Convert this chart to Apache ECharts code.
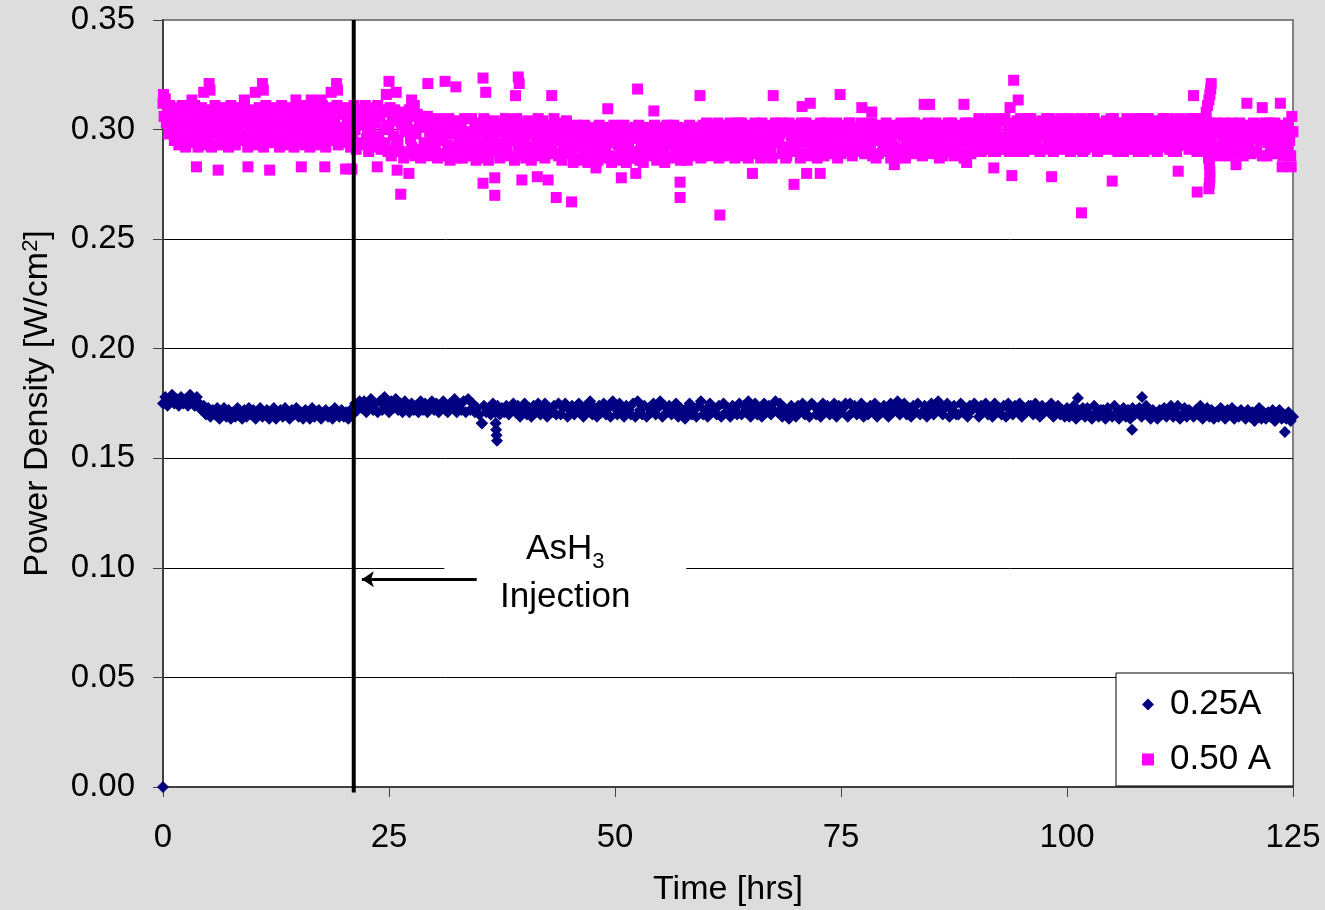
<!DOCTYPE html>
<html>
<head>
<meta charset="utf-8">
<title>Power Density vs Time</title>
<script src="https://cdn.jsdelivr.net/npm/echarts@6/dist/echarts.min.js"></script>
<style>
  html, body { margin: 0; padding: 0; background: #dddddd; }
  #chart { width: 1325px; height: 910px; }
</style>
</head>
<body>
<div id="chart"></div>
<script>
// ---------------------------------------------------------------
// Logged cell power density, in mW/cm2 (converted to W/cm2 below)
// ---------------------------------------------------------------

// 0.25 A run: one reading every 0.25 h (8 readings per row = 2 h)
const step025 = 0.25;
const pd025 = [
  175, 178, 174, 177, 179, 175, 177, 174,
  178, 175, 177, 174, 179, 176, 174, 178,
  175, 172, 174, 170, 173, 169, 172, 170,
  173, 168, 171, 173, 169, 172, 168, 171,
  169, 173, 170, 168, 172, 169, 173, 170,
  172, 168, 171, 173, 169, 170, 172, 168,
  171, 173, 168, 170, 172, 169, 173, 170,
  168, 172, 170, 173, 169, 171, 168, 172,
  170, 168, 173, 169, 171, 172, 168, 170,
  172, 169, 171, 168, 173, 170, 169, 172,
  169, 171, 168, 172, 170, 175, 172, 176,
  173, 176, 171, 174, 177, 172, 175, 171,
  176, 172, 178, 174, 171, 176, 173, 177,
  172, 175, 171, 176, 173, 171, 175, 172,
  174, 171, 176, 172, 175, 171, 173, 176,
  172, 175, 171, 174, 176, 172, 171, 175,
  173, 177, 171, 174, 172, 176, 171, 177,
  172, 175, 171, 173, 170, 166, 174, 171,
  173, 170, 175, 171, 174, 170, 173, 171,
  174, 170, 173, 175, 171, 174, 169, 172,
  175, 170, 173, 169, 174, 171, 175, 170,
  172, 175, 169, 173, 171, 174, 170, 175,
  170, 173, 175, 169, 172, 174, 170, 173,
  175, 171, 169, 174, 172, 176, 170, 173,
  169, 174, 171, 175, 170, 173, 169, 176,
  173, 170, 175, 171, 169, 174, 172, 170,
  175, 169, 176, 172, 170, 174, 169, 173,
  171, 175, 170, 173, 176, 169, 174, 171,
  174, 170, 172, 175, 169, 173, 171, 168,
  173, 175, 170, 172, 169, 174, 176, 170,
  172, 169, 175, 171, 173, 170, 174, 169,
  175, 171, 173, 169, 174, 172, 170, 175,
  170, 174, 171, 176, 169, 173, 175, 170,
  173, 169, 175, 171, 174, 170, 172, 176,
  171, 175, 169, 173, 170, 168, 174, 172,
  169, 174, 172, 175, 170, 173, 169, 175,
  174, 170, 173, 169, 175, 171, 174, 170,
  172, 175, 169, 174, 171, 173, 175, 169,
  175, 171, 174, 170, 172, 175, 169, 173,
  170, 174, 172, 175, 169, 173, 171, 174,
  173, 169, 175, 171, 174, 176, 170, 172,
  175, 170, 173, 169, 174, 171, 175, 170,
  171, 174, 169, 173, 175, 170, 172, 176,
  174, 170, 173, 175, 169, 172, 174, 170,
  170, 175, 171, 173, 169, 174, 172, 175,
  173, 169, 174, 171, 175, 170, 173, 169,
  175, 171, 173, 170, 174, 169, 175, 172,
  170, 174, 172, 175, 169, 173, 171, 174,
  174, 170, 175, 172, 169, 174, 171, 173,
  171, 175, 169, 173, 174, 170, 172, 169,
  173, 169, 171, 174, 168, 172, 170, 173,
  169, 173, 170, 168, 174, 171, 169, 172,
  172, 168, 173, 170, 169, 174, 171, 168,
  170, 173, 169, 172, 168, 173, 170, 172,
  173, 169, 171, 174, 170, 168, 172, 170,
  168, 172, 170, 173, 169, 171, 174, 169,
  171, 174, 168, 170, 173, 169, 172, 171,
  169, 172, 170, 174, 168, 171, 173, 169,
  172, 168, 171, 169, 173, 170, 168, 172,
  170, 173, 168, 171, 169, 172, 170, 168,
  172, 169, 171, 167, 170, 173, 168, 171,
  168, 171, 169, 172, 167, 170, 172, 168,
  170, 168, 171, 167, 169
];
// 0.25 A readings off the regular log: [time h, mW/cm2]
const extra025 = [
  [0, 0], [35.3, 166],
  [36.8, 166], [36.85, 163], [36.9, 160.5], [36.95, 158],
  [101.2, 177.5], [107.2, 163], [108.3, 178], [124.1, 162]
];

// 0.50 A run: one reading every 0.125 h (8 per hour, one row per hour)
const step050 = 0.125;
const pd050 = [
  312, 306, 314, 303, 309, 298, 311, 304,
  301, 308, 295, 310, 299, 304, 293, 307,
  300, 311, 296, 303, 292, 308, 302, 297,
  309, 294, 305, 299, 311, 296, 303, 292,
  306, 300, 310, 293, 302, 308, 297, 304,
  295, 309, 301, 292, 307, 303, 311, 298,
  304, 293, 308, 300, 296, 310, 294, 305,
  299, 307, 292, 303, 311, 297, 302, 309,
  293, 305, 300, 310, 295, 304, 298, 307,
  311, 296, 303, 292, 308, 301, 294, 306,
  302, 309, 297, 305, 293, 310, 300, 296,
  307, 292, 304, 311, 298, 303, 295, 309,
  300, 306, 294, 302, 310, 297, 305, 292,
  303, 311, 298, 293, 307, 301, 309, 295,
  296, 304, 310, 300, 292, 306, 299, 308,
  309, 294, 301, 305, 297, 311, 293, 303,
  298, 307, 292, 310, 302, 296, 308, 300,
  305, 293, 309, 297, 303, 311, 294, 301,
  292, 308, 300, 306, 295, 302, 310, 298,
  304, 297, 311, 293, 309, 300, 296, 307,
  301, 310, 294, 303, 298, 308, 292, 305,
  297, 311, 300, 291, 306, 302, 309, 294,
  308, 293, 304, 311, 296, 301, 290, 307,
  299, 310, 292, 305, 303, 297, 311, 295,
  306, 291, 309, 300, 294, 308, 302, 290,
  301, 310, 288, 304, 297, 309, 292, 306,
  295, 308, 290, 302, 307, 287, 299, 305,
  303, 289, 309, 296, 292, 306, 300, 288,
  298, 307, 291, 304, 287, 301, 306, 294,
  290, 302, 306, 288, 299, 305, 293, 297,
  304, 291, 298, 287, 302, 295, 305, 289,
  296, 303, 288, 300, 293, 305, 286, 299,
  290, 298, 304, 292, 287, 301, 295, 303,
  302, 287, 296, 305, 290, 299, 293, 288,
  294, 305, 289, 297, 303, 286, 300, 292,
  299, 288, 302, 294, 305, 291, 287, 297,
  286, 301, 295, 290, 298, 304, 293, 300,
  303, 292, 287, 299, 294, 302, 289, 305,
  291, 297, 304, 288, 301, 295, 303, 286,
  300, 305, 293, 297, 289, 303, 290, 298,
  295, 287, 301, 304, 292, 298, 286, 302,
  289, 303, 296, 291, 305, 293, 299, 288,
  304, 294, 287, 300, 297, 290, 302, 296,
  292, 299, 305, 289, 295, 303, 288, 301,
  298, 286, 293, 302, 290, 304, 297, 291,
  301, 289, 296, 285, 299, 292, 302, 287,
  294, 300, 286, 297, 291, 302, 288, 295,
  285, 298, 293, 301, 287, 296, 300, 290,
  299, 286, 302, 291, 295, 288, 297, 293,
  290, 301, 287, 296, 300, 285, 294, 302,
  296, 288, 299, 293, 286, 301, 290, 297,
  302, 291, 285, 298, 294, 289, 300, 287,
  287, 297, 301, 290, 296, 302, 286, 293,
  295, 285, 292, 300, 288, 297, 301, 291,
  300, 294, 289, 302, 297, 286, 293, 298,
  288, 301, 296, 291, 285, 299, 302, 294,
  293, 287, 300, 297, 302, 290, 288, 296,
  301, 295, 286, 292, 299, 294, 300, 289,
  286, 298, 302, 288, 293, 301, 291, 297,
  299, 292, 295, 301, 287, 296, 302, 290,
  294, 303, 289, 297, 300, 288, 302, 292,
  301, 290, 296, 303, 287, 299, 293, 298,
  288, 300, 302, 291, 297, 294, 303, 289,
  297, 292, 287, 301, 295, 303, 290, 299,
  303, 296, 300, 288, 293, 298, 287, 302,
  290, 301, 294, 299, 303, 289, 297, 292,
  299, 287, 303, 295, 290, 301, 296, 288,
  293, 302, 291, 287, 300, 295, 303, 297,
  301, 294, 298, 303, 289, 292, 300, 287,
  288, 299, 303, 292, 297, 301, 290, 295,
  302, 291, 295, 300, 287, 303, 294, 298,
  295, 303, 289, 297, 301, 288, 299, 292,
  290, 296, 302, 287, 294, 300, 303, 291,
  300, 288, 297, 303, 292, 295, 289, 301,
  297, 302, 291, 294, 303, 287, 298, 293,
  289, 295, 300, 298, 290, 302, 293, 303,
  303, 292, 288, 301, 296, 291, 300, 294,
  294, 300, 303, 290, 298, 289, 295, 302,
  291, 297, 294, 303, 288, 301, 299, 287,
  298, 289, 301, 295, 302, 293, 290, 300,
  303, 294, 290, 299, 287, 296, 302, 292,
  292, 301, 298, 288, 300, 303, 291, 297,
  300, 287, 295, 302, 293, 298, 303, 289,
  296, 303, 291, 297, 301, 290, 294, 302,
  288, 299, 302, 293, 296, 303, 289, 298,
  301, 292, 297, 290, 303, 294, 300, 287,
  295, 300, 288, 302, 291, 299, 296, 303,
  290, 297, 303, 295, 288, 301, 292, 299,
  302, 289, 296, 300, 294, 287, 303, 297,
  297, 303, 292, 289, 300, 296, 291, 301,
  293, 301, 305, 297, 290, 303, 299, 295,
  304, 296, 291, 300, 305, 294, 298, 290,
  299, 290, 302, 305, 293, 297, 304, 291,
  291, 305, 297, 293, 301, 290, 303, 298,
  302, 294, 300, 290, 304, 299, 292, 305,
  296, 303, 290, 301, 297, 305, 294, 300,
  305, 291, 298, 294, 303, 292, 301, 297,
  290, 300, 304, 297, 291, 302, 305, 293,
  298, 305, 293, 302, 290, 296, 299, 304,
  303, 292, 297, 305, 299, 291, 294, 301,
  294, 301, 305, 290, 296, 304, 300, 292,
  300, 297, 291, 303, 305, 293, 290, 298,
  291, 304, 299, 296, 292, 301, 305, 294,
  305, 293, 302, 290, 298, 303, 296, 300,
  297, 300, 294, 304, 291, 295, 302, 305,
  292, 305, 298, 293, 303, 290, 299, 296,
  303, 295, 290, 301, 297, 305, 292, 299,
  299, 291, 304, 296, 300, 294, 305, 290,
  294, 302, 297, 305, 290, 300, 293, 303,
  305, 296, 292, 299, 304, 291, 301, 297,
  290, 303, 300, 294, 298, 305, 295, 292,
  301, 297, 305, 291, 293, 302, 290, 304,
  296, 290, 299, 303, 305, 295, 298, 293,
  304, 299, 293, 297, 291, 300, 305, 296,
  292, 305, 301, 290, 302, 297, 294, 299,
  300, 294, 296, 304, 299, 291, 303, 297,
  295, 302, 289, 298, 303, 292, 300, 288,
  301, 290, 296, 303, 294, 299, 291, 297,
  288, 298, 303, 293, 300, 289, 302, 295,
  297, 303, 291, 299, 288, 301, 294, 300,
  302, 294, 300, 289, 296, 303, 290, 298,
  290, 299, 302, 295, 301, 288, 297, 303,
  299, 288, 294, 303, 291, 300, 296, 292,
  303, 296, 289, 301, 298, 293, 302, 288,
  294, 301, 297, 290, 303, 295, 288, 306,
  299
];
// 0.50 A scattered readings off the regular log: [time h, mW/cm2]
const extra050 = [
  [0.05, 316], [3.2, 313.5], [4.5, 317], [5.1, 321], [5.2, 318], [9.0, 313.5],
  [10.2, 317], [11.0, 321], [11.1, 318], [14.7, 313.5], [16.4, 313.5],
  [17.5, 313.5], [18.6, 317], [19.2, 321], [19.3, 318],
  [3.7, 283], [6.1, 281.5], [9.4, 283], [11.8, 281.5], [15.3, 283],
  [17.9, 283], [20.2, 282], [20.9, 282],
  [24.7, 316], [25.0, 322], [25.8, 317], [27.5, 313.5], [27.8, 311],
  [29.3, 321], [31.2, 322], [32.4, 319.5], [35.4, 323.5], [35.7, 317],
  [39.0, 315.5], [39.3, 324], [39.4, 321], [43.0, 315.5],
  [23.7, 283], [25.9, 281.5], [26.3, 270.5], [27.2, 280], [35.4, 275.5],
  [36.7, 278], [36.7, 270], [39.7, 277], [41.4, 278.5], [42.6, 277],
  [43.5, 269], [45.2, 267], [47.9, 282.5],
  [49.2, 309.5], [52.5, 318.5], [54.3, 308.5], [59.4, 315.5], [67.5, 315.5],
  [70.7, 310.5], [71.6, 312], [74.9, 316], [77.3, 310], [78.4, 308],
  [84.2, 311.5], [84.8, 311.5], [88.6, 311.5], [93.7, 310], [94.1, 322.5],
  [94.6, 313.5], [114.0, 315.5], [119.9, 312], [121.6, 310], [123.6, 312],
  [50.7, 278], [52.3, 280], [57.2, 276], [57.2, 269], [61.6, 261],
  [65.2, 280], [69.8, 275], [71.2, 280], [72.7, 280], [80.9, 284],
  [88.9, 285], [91.9, 282.5], [93.9, 279], [98.3, 278.5], [101.6, 262],
  [105.0, 276.5], [112.3, 281], [114.4, 271.5], [118.7, 284],
  [123.8, 283], [124.8, 283]
];
// 0.50 A excursion near 116 h
const excursion050 = [
  [115.95, 321], [115.9, 318.5], [115.8, 316], [115.7, 313.5], [115.55, 311],
  [115.4, 308], [115.3, 305], [115.3, 302], [115.3, 299], [115.35, 296],
  [115.45, 293], [115.55, 290], [115.65, 287], [115.75, 284], [115.8, 281],
  [115.8, 278], [115.75, 275.5], [115.7, 273]
];

// AsH3 injection time (h)
const injectionTime = 21.1;

// axis ticks
const xTicks = { min: 0, max: 125, interval: 25 };
const yTicks = { min: 0, max: 0.35, interval: 0.05 };

// ---------------------------------------------------------------
const FONT = '"Liberation Sans", Arial, sans-serif';
const toW = v => v / 1000;
const logged = (vals, step) => vals.map((v, i) => [i * step, toW(v)]);
const pairs = list => list.map(p => [p[0], toW(p[1])]);

const data025 = logged(pd025, step025).concat(pairs(extra025));
const data050 = logged(pd050, step050).concat(pairs(extra050), pairs(excursion050));

const chart = echarts.init(document.getElementById('chart'), null, { renderer: 'canvas' });

chart.setOption({
  backgroundColor: '#dddddd',
  animation: false,
  textStyle: { fontFamily: FONT, color: '#000' },
  grid: {
    left: 163, right: 32, top: 20, bottom: 123,
    outerBoundsMode: 'none',
    containLabel: false,
    show: true, backgroundColor: '#ffffff',
    borderColor: '#808080', borderWidth: 2
  },
  legend: {
    data: ['0.25A', '0.50 A'],
    orient: 'vertical',
    left: 1116, top: 673,
    itemWidth: 12, itemHeight: 12, itemGap: 20,
    padding: [14, 22, 9, 26],
    backgroundColor: '#ffffff',
    borderColor: '#000000', borderWidth: 1,
    selectedMode: false,
    itemStyle: { opacity: 1 },
    textStyle: { fontSize: 35, color: '#000', fontFamily: FONT, padding: [0, 0, 0, 11] }
  },
  xAxis: {
    type: 'value',
    min: xTicks.min, max: xTicks.max, interval: xTicks.interval,
    name: 'Time [hrs]',
    nameLocation: 'middle', nameGap: 86,
    nameTextStyle: { fontSize: 34, color: '#000', fontFamily: FONT },
    axisLine: { show: true, onZero: false, lineStyle: { color: '#404040', width: 2 } },
    axisTick: { show: true, length: 10, lineStyle: { color: '#404040', width: 1 } },
    axisLabel: { fontSize: 33, color: '#000', margin: 34, fontFamily: FONT },
    splitLine: { show: false }
  },
  yAxis: {
    type: 'value',
    min: yTicks.min, max: yTicks.max, interval: yTicks.interval,
    name: '{t|Power Density [W/cm}{sup|2}{t|]}',
    nameLocation: 'middle', nameGap: 107,
    nameTextStyle: {
      fontSize: 34, color: '#000', fontFamily: FONT,
      rich: {
        t: { fontSize: 34, lineHeight: 36, color: '#000', fontFamily: FONT },
        sup: { fontSize: 22, lineHeight: 22, verticalAlign: 'top', color: '#000', fontFamily: FONT }
      }
    },
    axisLine: { show: true, onZero: false, lineStyle: { color: '#404040', width: 2 } },
    axisTick: { show: true, length: 10, lineStyle: { color: '#404040', width: 1 } },
    axisLabel: {
      fontSize: 33, color: '#000', margin: 28, fontFamily: FONT,
      formatter: v => v.toFixed(2)
    },
    splitLine: {
      show: true, showMinLine: false, showMaxLine: false,
      lineStyle: { color: '#000000', width: 1 }
    }
  },
  series: [
    {
      name: '0.25A',
      type: 'scatter',
      symbol: 'diamond',
      symbolSize: 12,
      clip: false,
      itemStyle: { color: '#000080', opacity: 1 },
      data: data025,
      z: 3
    },
    {
      name: '0.50 A',
      type: 'scatter',
      symbol: 'rect',
      symbolSize: 11,
      clip: false,
      itemStyle: { color: '#ff00ff', opacity: 1 },
      data: data050,
      z: 3
    },
    {
      // injection marker line, label box and arrow
      type: 'line',
      silent: true,
      clip: false,
      showSymbol: false,
      symbol: 'none',
      z: 6,
      lineStyle: { color: '#000000', width: 4 },
      data: [[injectionTime, -0.0025], [injectionTime, yTicks.max]],
      markPoint: {
        silent: true,
        z: 4,
        symbol: 'rect',
        symbolSize: [242, 96],
        itemStyle: { color: '#ffffff' },
        label: {
          show: true,
          position: 'inside',
          color: '#000',
          formatter: '{m|AsH}{s|3}\n{m|Injection}',
          rich: {
            m: { fontSize: 35, lineHeight: 48, color: '#000', fontFamily: FONT },
            s: { fontSize: 22, lineHeight: 22, verticalAlign: 'bottom', color: '#000', fontFamily: FONT }
          }
        },
        data: [{ coord: [44.5, 0.0975] }]
      },
      markLine: {
        silent: true,
        z: 7,
        symbol: ['none', 'arrow'],
        symbolSize: [12, 12],
        label: { show: false },
        lineStyle: { color: '#000000', width: 3, type: 'solid' },
        data: [[{ coord: [34.7, 0.0948] }, { coord: [22.0, 0.0948] }]]
      }
    }
  ]
});
</script>
</body>
</html>
